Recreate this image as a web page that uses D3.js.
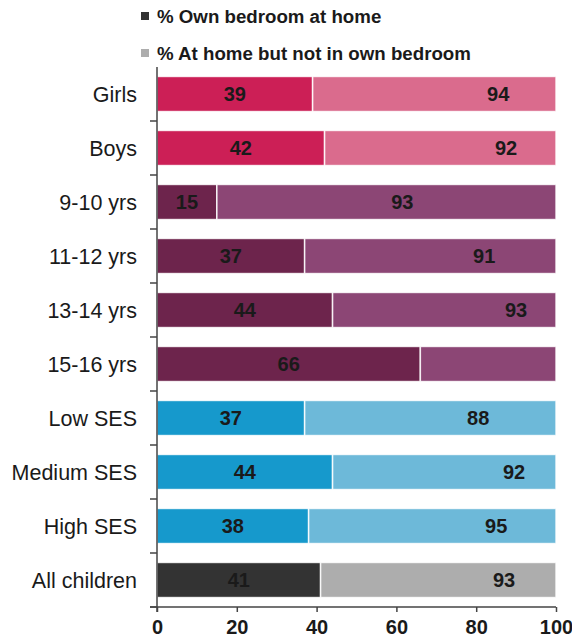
<!DOCTYPE html>
<html>
<head>
<meta charset="utf-8">
<script src="https://cdn.jsdelivr.net/npm/d3@7"></script>
<style>
  body { margin: 0; background: #fff; }
  svg { display: block; }
</style>
</head>
<body>
<script>
// categories and values
var categories = ["Girls", "Boys", "9-10 yrs", "11-12 yrs", "13-14 yrs", "15-16 yrs",
                  "Low SES", "Medium SES", "High SES", "All children"];
var ownBedroom = [39, 42, 15, 37, 44, 66, 37, 44, 38, 41];   // % own bedroom at home
var atHome = [94, 92, 93, 91, 93, null, 88, 92, 95, 93];      // label shown on the second segment
var secondLabelAt = [85.5, 87.5, 61.5, 82, 90, null, 80.5, 89.5, 85, 87]; // where that label sits (value units)
var groups = ["gender", "gender", "age", "age", "age", "age", "ses", "ses", "ses", "all"];
var xTicks = [0, 20, 40, 60, 80, 100];
var legendLabels = ["% Own bedroom at home", "% At home but not in own bedroom"];

var darkColor = { gender: "#cc1f56", age: "#6d244c", ses: "#1699cc", all: "#333333" };
var lightColor = { gender: "#da6b8d", age: "#8c4675", ses: "#6db9d9", all: "#adadad" };

var W = 572, H = 643;
var svg = d3.select("body").append("svg").attr("width", W).attr("height", H);

var x = d3.scaleLinear().domain([0, 100]).range([157, 556]);
var y = d3.scaleBand().domain(categories).range([67, 607])
    .paddingInner(0.35).paddingOuter(0.175);

var rows = categories.map(function (c, i) {
    return { cat: c, own: ownBedroom[i], home: atHome[i], at: secondLabelAt[i], g: groups[i] };
});

// legend
var leg = svg.append("g");
legendLabels.forEach(function (t, i) {
    var ly = 16 + i * 37;
    leg.append("rect").attr("x", 141).attr("y", ly - 4).attr("width", 8).attr("height", 8)
        .attr("fill", i == 0 ? "#333333" : "#adadad");
    leg.append("text").attr("x", 157).attr("y", ly).attr("dy", "0.35em")
        .attr("font-family", "'Liberation Sans', Arial, sans-serif")
        .attr("font-weight", "bold").attr("font-size", "18.7px").attr("fill", "#1a1a1a")
        .text(t);
});

// bars
var bar = svg.append("g").selectAll("g").data(rows).enter().append("g");
bar.append("rect")  // own bedroom part
    .attr("x", x(0))
    .attr("y", function (d) { return y(d.cat); })
    .attr("width", function (d) { return x(d.own) - x(0); })
    .attr("height", y.bandwidth())
    .attr("fill", function (d) { return darkColor[d.g]; })
    .attr("stroke", "rgba(255,255,255,0.85)").attr("stroke-width", 1.5);
bar.append("rect")  // the rest of the bar
    .attr("x", function (d) { return x(d.own); })
    .attr("y", function (d) { return y(d.cat); })
    .attr("width", function (d) { return x(100) - x(d.own); })
    .attr("height", y.bandwidth())
    .attr("fill", function (d) { return lightColor[d.g]; })
    .attr("stroke", "rgba(255,255,255,0.85)").attr("stroke-width", 1.5);

var numFont = "'Liberation Sans Narrow', 'Arial Narrow', sans-serif";
bar.append("text")
    .attr("x", function (d) { return x(d.own / 2); })
    .attr("y", function (d) { return y(d.cat) + y.bandwidth() / 2; })
    .attr("dy", "0.35em").attr("text-anchor", "middle")
    .attr("font-family", numFont).attr("font-weight", "bold").attr("font-size", "20px")
    .attr("fill", "#1a1a1a")
    .text(function (d) { return d.own; });
bar.filter(function (d) { return d.home != null; }).append("text")
    .attr("x", function (d) { return x(d.at); })
    .attr("y", function (d) { return y(d.cat) + y.bandwidth() / 2; })
    .attr("dy", "0.35em").attr("text-anchor", "middle")
    .attr("font-family", numFont).attr("font-weight", "bold").attr("font-size", "20px")
    .attr("fill", "#1a1a1a")
    .text(function (d) { return d.home; });

// category axis
var yAxis = svg.append("g");
yAxis.append("line").attr("x1", x(0)).attr("x2", x(0)).attr("y1", 67).attr("y2", 612)
    .attr("stroke", "#444").attr("stroke-width", 1.5);
categories.forEach(function (c) {
    var b = y(c) + y.bandwidth() + y.step() * y.paddingInner() / 2;
    yAxis.append("line").attr("x1", x(0) - 7).attr("x2", x(0)).attr("y1", b).attr("y2", b)
        .attr("stroke", "#444").attr("stroke-width", 1.5);
});
yAxis.selectAll("text").data(categories).enter().append("text")
    .attr("x", 137)
    .attr("y", function (d) { return y(d) + y.bandwidth() / 2; })
    .attr("dy", "0.35em").attr("text-anchor", "end")
    .attr("font-family", "'Liberation Sans', Arial, sans-serif").attr("font-size", "21.5px")
    .attr("fill", "#1a1a1a")
    .text(function (d) { return d; });

// value axis
var xAxis = svg.append("g").attr("transform", "translate(0,607)")
    .call(d3.axisBottom(x).tickValues(xTicks).tickSize(5).tickPadding(8).tickSizeOuter(0));
xAxis.select(".domain").attr("stroke", "#444").attr("stroke-width", 1.5)
    .attr("d", "M" + (x(0) - 7) + ",0H" + x(100));
xAxis.selectAll(".tick line").attr("stroke", "#444").attr("stroke-width", 1.5);
xAxis.selectAll(".tick text")
    .attr("font-family", numFont).attr("font-weight", "bold").attr("font-size", "20px")
    .attr("fill", "#1a1a1a");
</script>
</body>
</html>
